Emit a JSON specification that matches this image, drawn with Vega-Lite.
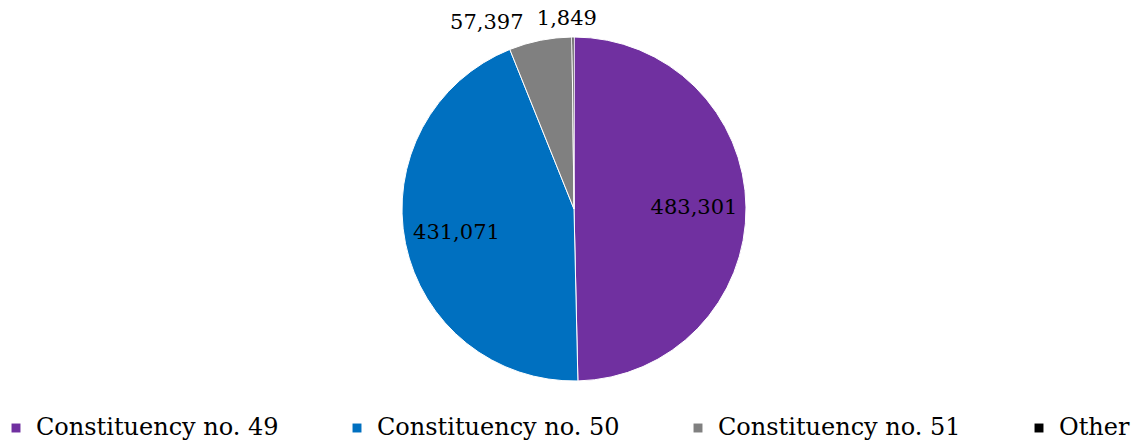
{
  "$schema": "https://vega.github.io/schema/vega-lite/v6.json",
  "width": 1144,
  "height": 442,
  "autosize": {"type": "fit", "contains": "padding"},
  "padding": {"top": 10, "bottom": 2, "left": 4, "right": 0},
  "background": "white",
  "config": {
    "font": "DejaVu Serif",
    "legend": {"labelFont": "DejaVu Serif", "labelFontSize": 24, "labelColor": "#000000"},
    "text": {"font": "DejaVu Serif"}
  },
  "data": {
    "values": [
      {"group": "Constituency no. 49", "votes": 483301, "rank": 1, "label": "483,301"},
      {"group": "Constituency no. 50", "votes": 431071, "rank": 2, "label": "431,071"},
      {"group": "Constituency no. 51", "votes": 57397, "rank": 3, "label": "57,397"},
      {"group": "Other", "votes": 1849, "rank": 4, "label": "1,849"}
    ]
  },
  "encoding": {
    "theta": {"field": "votes", "type": "quantitative", "stack": true},
    "order": {"field": "rank", "type": "quantitative"}
  },
  "layer": [
    {
      "mark": {"type": "arc", "outerRadius": 172, "stroke": "white", "strokeWidth": 1},
      "encoding": {
        "color": {
          "field": "group",
          "type": "nominal",
          "scale": {
            "domain": ["Constituency no. 49", "Constituency no. 50", "Constituency no. 51", "Other"],
            "range": ["#7030A0", "#0070C0", "#808080", "#000000"]
          },
          "legend": {
            "title": null,
            "orient": "bottom",
            "direction": "horizontal",
            "symbolType": "square",
            "symbolSize": 80,
            "symbolStrokeWidth": 0,
            "labelFont": "DejaVu Serif",
            "labelFontSize": 24,
            "labelColor": "#000000",
            "labelLimit": 400,
            "columnPadding": 66,
            "offset": 8,
            "labelOffset": 8
          }
        }
      }
    },
    {
      "mark": {"type": "text", "radius": 120, "font": "DejaVu Serif", "fontSize": 21, "color": "#000000"},
      "encoding": {
        "text": {"condition": {"test": "datum.rank <= 2", "field": "label"}, "value": ""}
      }
    },
    {
      "mark": {"type": "text", "radius": 190, "dx": -50, "font": "DejaVu Serif", "fontSize": 21, "color": "#000000"},
      "encoding": {
        "text": {"condition": {"test": "datum.rank == 3", "field": "label"}, "value": ""}
      }
    },
    {
      "mark": {"type": "text", "radius": 190, "dx": -6, "font": "DejaVu Serif", "fontSize": 21, "color": "#000000"},
      "encoding": {
        "text": {"condition": {"test": "datum.rank == 4", "field": "label"}, "value": ""}
      }
    }
  ]
}
